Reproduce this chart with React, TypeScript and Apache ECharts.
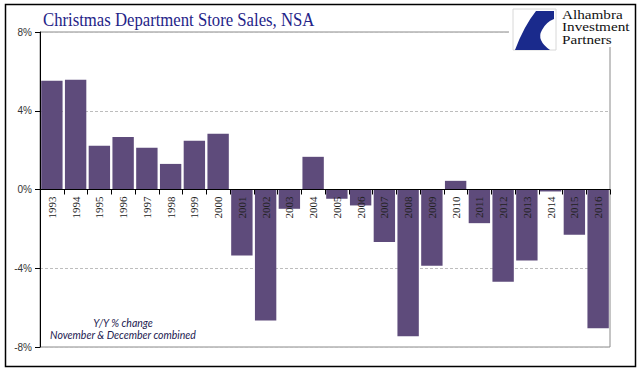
import React, { useEffect, useRef } from "react";
import * as echarts from "echarts";

const years = ["1993","1994","1995","1996","1997","1998","1999","2000","2001","2002","2003","2004","2005","2006","2007","2008","2009","2010","2011","2012","2013","2014","2015","2016"];
const yoyChange = [5.52, 5.57, 2.22, 2.67, 2.12, 1.30, 2.47, 2.83, -3.35, -6.65, -0.98, 1.66, -0.47, -0.81, -2.67, -7.46, -3.87, 0.44, -1.71, -4.69, -3.60, -0.10, -2.30, -7.05];
const yTicks = { min: -8, max: 8, interval: 4 };
const titleText = "Christmas Department Store Sales, NSA";
const noteLines = ["Y/Y % change", "November & December combined"];
const logoLines = ["Alhambra", "Investment", "Partners"];

const logoPath = "M40 1 L22 1 Q10 16 1 40 L36 40 Q22 30 28 20 Q32 12 40 9 Z";
echarts.graphic.registerShape("logo", (echarts.graphic as any).extendPath(logoPath, {}));

export default function App() {
  const ref = useRef<HTMLDivElement>(null);
  useEffect(() => {
    document.body.style.margin = "0";
    if (!ref.current) return;
    const chart = echarts.init(ref.current, null, { renderer: "svg" });
    chart.setOption({
      animation: false,
      backgroundColor: "#ffffff",
      grid: {
        left: 40, right: 31, top: 32, bottom: 28,
        show: true, borderColor: "#8a8a8a", borderWidth: 1, backgroundColor: "transparent",
      },
      xAxis: {
        type: "category",
        data: years,
        offset: -157.5,
        axisLine: { onZero: false, lineStyle: { color: "#000", width: 1 } },
        axisTick: { show: true, length: 5, lineStyle: { color: "#000" } },
        axisLabel: { rotate: 90, fontFamily: "Liberation Serif", fontSize: 11, color: "#222", margin: 7, interval: 0 },
        z: 5,
      },
      yAxis: {
        type: "value",
        min: yTicks.min, max: yTicks.max, interval: yTicks.interval,
        axisLine: { show: true, onZero: false, lineStyle: { color: "#000", width: 1 } },
        axisTick: { show: true, length: 5, lineStyle: { color: "#000" } },
        axisLabel: { formatter: "{value}%", fontFamily: "Liberation Sans", fontSize: 10, color: "#333", margin: 8 },
        splitLine: { show: true, lineStyle: { color: "#bdbdbd", type: [3, 2], width: 1 } },
      },
      series: [
        {
          type: "bar",
          data: yoyChange,
          barCategoryGap: "10%",
          itemStyle: { color: "#5e4b7b" },
          z: 2,
        },
      ],
      graphic: [
        {
          type: "text", z: 50, x: 43, y: 10, scaleX: 0.88,
          style: { text: titleText, fontFamily: "Liberation Serif", fontSize: 19, fill: "#1f2488" },
        },
        { type: "rect", z: 100, shape: { x: 509, y: 6, width: 123, height: 41 }, style: { fill: "#fff" } },
        { type: "rect", z: 101, shape: { x: 513, y: 9, width: 43, height: 41 }, style: { fill: "#fff", stroke: "#d8d8d8", lineWidth: 1 } },
        { type: "logo", z: 102, x: 514, y: 10, scaleX: 1, scaleY: 1, style: { fill: "#1a2a8c" } },
        {
          type: "text", z: 102, x: 562, y: 8, scaleX: 1.17,
          style: { text: logoLines.join("\n"), fontFamily: "Liberation Serif", fontSize: 13, lineHeight: 12.5, fill: "#111" },
        },
        ...noteLines.map((t, i) => ({
          type: "text", z: 50, x: 123, y: 323 + i * 12,
          style: { text: t, fontFamily: "Lato", fontStyle: "italic", fontSize: 10.5, fill: "#1c2050", align: "center", verticalAlign: "middle" },
        })),
        { type: "rect", z: 110, shape: { x: 5.5, y: 4.5, width: 630, height: 362 }, style: { fill: "none", stroke: "#000", lineWidth: 1.5 } },
      ],
    });
    return () => chart.dispose();
  }, []);
  return <div ref={ref} style={{ width: 641, height: 375 }} />;
}
